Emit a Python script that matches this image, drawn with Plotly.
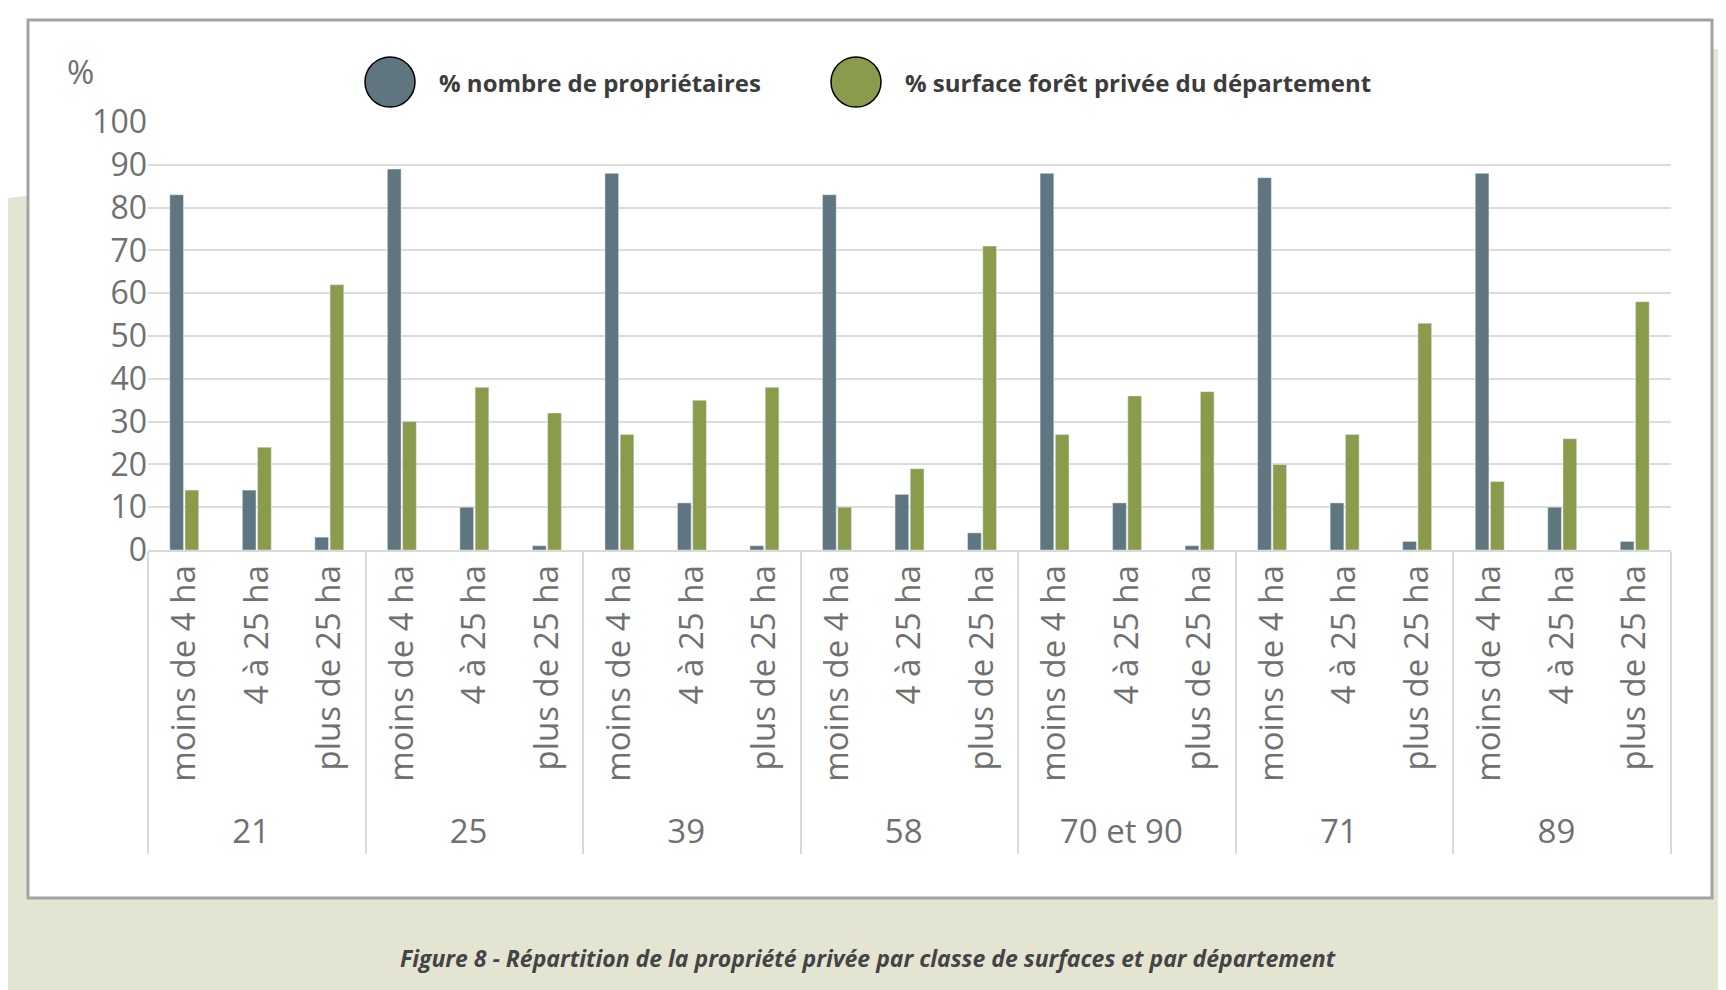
import plotly.graph_objects as go

departements = ["21", "25", "39", "58", "70 et 90", "71", "89"]
classes = ["moins de 4 ha", "4 à 25 ha", "plus de 25 ha"]
proprietaires = [83, 14, 3, 89, 10, 1, 88, 11, 1, 83, 13, 4, 88, 11, 1, 87, 11, 2, 88, 10, 2]
surface = [14, 24, 62, 30, 38, 32, 27, 35, 38, 10, 19, 71, 27, 36, 37, 20, 27, 53, 16, 26, 58]
y_ticks = list(range(0, 101, 10))

COLOR_OWN = "#5f7580"
COLOR_SURF = "#8a9b4b"
COLOR_BEIGE = "#e3e4d2"
COLOR_TEXT = "#707070"

W, H = 1726, 990
L, R, T, B = 140, 63, 114, 448
PW, PH = W - L - R, H - T - B


def px(x):
    return (x - L) / PW


def py(y):
    return (H - B - y) / PH


x_dep = [d for d in departements for _ in classes]
x_cls = [c for _ in departements for c in classes]

fig = go.Figure()
fig.add_trace(go.Bar(x=[x_dep, x_cls], y=proprietaires, marker_color=COLOR_OWN,
                     name="% nombre de propriétaires", showlegend=False))
fig.add_trace(go.Bar(x=[x_dep, x_cls], y=surface, marker_color=COLOR_SURF,
                     name="% surface forêt privée du département", showlegend=False))

shapes = [
    # white top band above the beige background
    dict(type="path", xref="paper", yref="paper", layer="below",
         path=f"M {px(0)} {py(0)} L {px(W)} {py(0)} L {px(W)} {py(40)} "
              f"Q {px(900)} {py(85)} {px(0)} {py(190)} Z",
         fillcolor="white", line=dict(width=0)),
    # white chart box
    dict(type="rect", xref="paper", yref="paper", layer="below",
         x0=px(20), x1=px(1704), y0=py(12), y1=py(890),
         fillcolor="white", line=dict(color="#a3a3a3", width=3)),
]
annotations = [
    dict(text="%", xref="paper", yref="paper", x=px(72), y=py(64), showarrow=False,
         xanchor="center", yanchor="middle", font=dict(size=33, color=COLOR_TEXT)),
    dict(text="<i><b>Figure 8 - Répartition de la propriété privée par classe de surfaces et par département</b></i>",
         xref="paper", yref="paper", x=px(860), y=py(950), showarrow=False,
         xanchor="center", yanchor="middle", font=dict(size=23, color="#444444")),
]
for cx, color, label in [(382, COLOR_OWN, "% nombre de propriétaires"),
                         (848, COLOR_SURF, "% surface forêt privée du département")]:
    shapes.append(dict(type="circle", xref="paper", yref="paper",
                       x0=px(cx - 25), x1=px(cx + 25), y0=py(74 - 25), y1=py(74 + 25),
                       fillcolor=color, line=dict(color="black", width=1.5)))
    annotations.append(dict(text=f"<b>{label}</b>", xref="paper", yref="paper",
                            x=px(cx + 47), y=py(74), xanchor="left", yanchor="middle",
                            showarrow=False, font=dict(size=24, color="#3c3c3c")))

fig.update_layout(
    width=W, height=H,
    margin=dict(l=L, r=R, t=T, b=B),
    paper_bgcolor=COLOR_BEIGE,
    plot_bgcolor="rgba(0,0,0,0)",
    barmode="group", bargap=0.58, bargroupgap=0.1,
    font=dict(family="Open Sans, sans-serif", color=COLOR_TEXT),
    shapes=shapes, annotations=annotations,
)
fig.update_xaxes(
    type="multicategory", tickangle=-90, tickfont=dict(size=33, color=COLOR_TEXT),
    showline=True, linecolor="#d9d9d9", linewidth=2,
    showdividers=True, dividercolor="#d9d9d9", dividerwidth=2,
    showgrid=False,
)
fig.update_yaxes(
    range=[0, 100], tickvals=y_ticks, tickfont=dict(size=32, color=COLOR_TEXT),
    showgrid=True, gridcolor="#dcdcdc", gridwidth=2, zeroline=False, ticks="",
)

fig.write_html("out.html")
